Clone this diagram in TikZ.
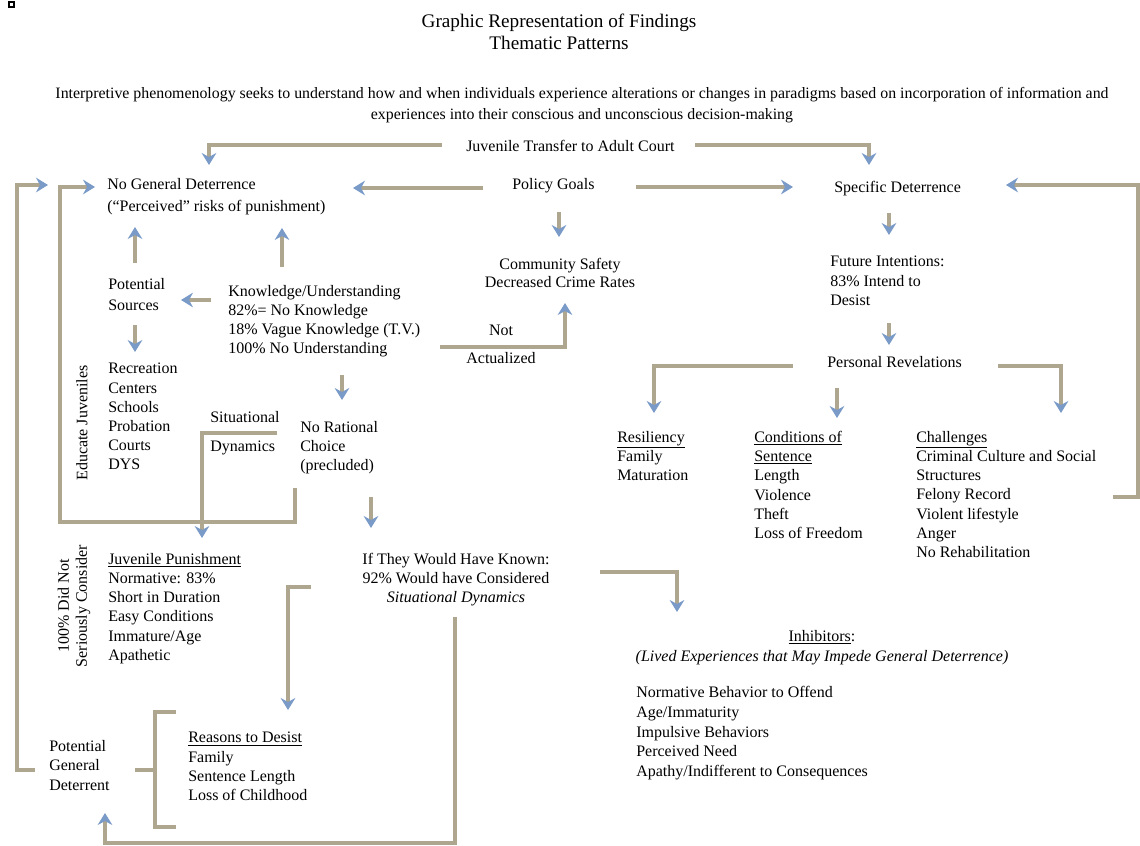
\documentclass[tikz,border=0pt]{standalone}
\usepackage{fontspec}
\setmainfont{Liberation Serif}
\usepackage{xcolor}
\definecolor{link-tan}{HTML}{AEA68E}
\definecolor{tip-blue}{HTML}{7A9AC8}
\usetikzlibrary{arrows.meta}

\begin{document}
\begin{tikzpicture}[x=0.75pt, y=-0.75pt,
    txt/.style={inner sep=0pt, anchor=north west, align=left, font=\fontsize{12}{14.4}\selectfont},
    link/.style={draw=link-tan, line width=3pt},
    arr/.style={link, -{Stealth[length=9pt, width=11pt, inset=3pt, color=tip-blue]}}]

    % Page
    \useasboundingbox (0,0) rectangle (1140,846);
    \draw[line width=0.8pt] (9,2) rectangle (14,7);

    % Heading
    \node[txt, anchor=north, align=center, font=\fontsize{14.4}{16.5}\selectfont] (title) at (559,14)
        {Graphic Representation of Findings\\Thematic Patterns};
    \node[txt, anchor=north, align=center, font=\fontsize{11.9}{15.75}\selectfont] (intro) at (582,87)
        {Interpretive phenomenology seeks to understand how and when individuals experience alterations or changes in paradigms based on incorporation of information and\\
         experiences into their conscious and unconscious decision-making};

    % Top row
    \node[txt] (transfer) at (466,140) {Juvenile Transfer to Adult Court};
    \node[txt, font=\fontsize{12}{16.5}\selectfont] (ngd) at (107,178) {No General Deterrence\\(“Perceived” risks of punishment)};
    \node[txt] (goals) at (512,178) {Policy Goals};
    \node[txt] (sd) at (834,181) {Specific Deterrence};

    % General deterrence side
    \node[txt, font=\fontsize{12}{15.75}\selectfont] (sources) at (108,278) {Potential\\Sources};
    \node[txt] (know) at (228,285) {Knowledge/Understanding\\82\%= No Knowledge\\18\% Vague Knowledge (T.V.)\\100\% No Understanding};
    \node[txt, anchor=north, align=center, font=\fontsize{12}{13.5}\selectfont] (safety) at (560,258) {Community Safety\\Decreased Crime Rates};
    \node[txt, anchor=north, align=center, font=\fontsize{12}{21}\selectfont] (notact) at (501,325) {Not\\Actualized};
    \node[txt] (rec) at (108,363) {Recreation\\Centers\\Schools\\Probation\\Courts\\DYS};
    \node[rotate=90, inner sep=0pt, font=\fontsize{12}{14.4}\selectfont] (educate) at (82,423) {Educate Juveniles};
    \node[txt, font=\fontsize{12}{21.75}\selectfont] (sit) at (210,411) {Situational\\Dynamics};
    \node[txt] (nrc) at (300,421) {No Rational\\Choice\\(precluded)};
    \node[rotate=90, inner sep=0pt, align=center, font=\fontsize{12}{13.5}\selectfont] (notconsider) at (74,606) {100\% Did Not\\Seriously Consider};
    \node[txt] (jp) at (108,553) {\underline{Juvenile Punishment}\\Normative: 83\%\\Short in Duration\\Easy Conditions\\Immature/Age\\Apathetic};
    \node[txt, anchor=north, align=center] (known) at (456,553) {If They Would Have Known:\\92\% Would have Considered\\\textit{Situational Dynamics}};
    \node[txt, font=\fontsize{12}{14.6}\selectfont] (pgd) at (49,740) {Potential\\General\\Deterrent};
    \node[txt] (rtd) at (188,732) {\underline{Reasons to Desist}\\Family\\Sentence Length\\Loss of Childhood};

    % Specific deterrence side
    \node[txt] (fi) at (830,256) {Future Intentions:\\83\% Intend to\\Desist};
    \node[txt] (pr) at (827,356) {Personal Revelations};
    \node[txt] (res) at (617,431) {\underline{Resiliency}\\Family\\Maturation};
    \node[txt] (cos) at (754,431) {\underline{Conditions of}\\\underline{Sentence}\\Length\\Violence\\Theft\\Loss of Freedom};
    \node[txt] (chl) at (916,431) {\underline{Challenges}\\Criminal Culture and Social\\Structures\\Felony Record\\Violent lifestyle\\Anger\\No Rehabilitation};
    \node[txt, anchor=north, align=center, font=\fontsize{12}{15}\selectfont] (inh) at (822,630) {\underline{Inhibitors}:\\\textit{(Lived Experiences that May Impede General Deterrence)}};
    \node[txt, font=\fontsize{12}{14.8}\selectfont] (inhlist) at (636,686) {Normative Behavior to Offend\\Age/Immaturity\\Impulsive Behaviors\\Perceived Need\\Apathy/Indifferent to Consequences};

    % Connector ends
    \coordinate (transfer-l) at (442,145);  \coordinate (ngd-t) at (209,165);
    \coordinate (transfer-r) at (695,145);  \coordinate (sd-t) at (869,165);
    \coordinate (goals-l) at (483,188);     \coordinate (ngd-r) at (353,188);
    \coordinate (goals-r) at (636,187);     \coordinate (sd-l) at (793,187);
    \coordinate (goals-b) at (559,212);     \coordinate (safety-t) at (559,237);
    \coordinate (chl-r) at (1113,497);      \coordinate (sd-r) at (1006,185);
    \coordinate (pgd-l) at (35,770);        \coordinate (ngd-l1) at (48,185);
    \coordinate (nrc-b) at (295,488);       \coordinate (ngd-l2) at (95,187);
    \coordinate (sources-t) at (135,263);   \coordinate (ngd-b1) at (135,227);
    \coordinate (know-t) at (282,267);      \coordinate (ngd-b2) at (282,228);
    \coordinate (know-l) at (211,300);      \coordinate (sources-r) at (181,300);
    \coordinate (sources-b) at (135,325);   \coordinate (rec-t) at (135,352);
    \coordinate (know-b) at (342,375);      \coordinate (nrc-t) at (342,400);
    \coordinate (know-r) at (440,347);      \coordinate (safety-b) at (565,303);
    \coordinate (sit-r) at (277,433);       \coordinate (jp-t) at (202,538);
    \coordinate (sd-b) at (889,213);        \coordinate (fi-t) at (889,235);
    \coordinate (fi-b) at (889,323);        \coordinate (pr-t) at (889,345);
    \coordinate (pr-l) at (793,366);        \coordinate (res-t) at (654,413);
    \coordinate (pr-b) at (837,388);        \coordinate (cos-t) at (837,418);
    \coordinate (pr-r) at (998,366);        \coordinate (chl-t) at (1061,413);
    \coordinate (nrc-b2) at (371,497);      \coordinate (known-t) at (371,528);
    \coordinate (known-r) at (600,572);     \coordinate (inh-t) at (677,612);
    \coordinate (known-l) at (311,587);     \coordinate (rtd-t) at (288,710);
    \coordinate (known-b) at (455,617);     \coordinate (pgd-b) at (105,813);
    \coordinate (rtd-brace) at (176,712);   \coordinate (pgd-r) at (135,770);

    % Connectors
    \draw[arr] (transfer-l) -| (ngd-t);
    \draw[arr] (transfer-r) -| (sd-t);
    \draw[arr] (goals-l) -- (ngd-r);
    \draw[arr] (goals-r) -- (sd-l);
    \draw[arr] (goals-b) -- (safety-t);
    \draw[arr] (chl-r) -- ++(25,0) |- (sd-r);
    \draw[arr] (pgd-l) -- ++(-18,0) |- (ngd-l1);
    \draw[arr] (nrc-b) -- ++(0,34) -- ++(-235,0) |- (ngd-l2);
    \draw[arr] (sources-t) -- (ngd-b1);
    \draw[arr] (know-t) -- (ngd-b2);
    \draw[arr] (know-l) -- (sources-r);
    \draw[arr] (sources-b) -- (rec-t);
    \draw[arr] (know-b) -- (nrc-t);
    \draw[arr] (know-r) -| (safety-b); % Not actualized
    \draw[arr] (sit-r) -| (jp-t);
    \draw[arr] (sd-b) -- (fi-t);
    \draw[arr] (fi-b) -- (pr-t);
    \draw[arr] (pr-l) -| (res-t);
    \draw[arr] (pr-b) -- (cos-t);
    \draw[arr] (pr-r) -| (chl-t);
    \draw[arr] (nrc-b2) -- (known-t);
    \draw[arr] (known-r) -| (inh-t);
    \draw[arr] (known-l) -| (rtd-t);
    \draw[arr] (known-b) -- ++(0,226) -| (pgd-b);

    % Bracket
    \draw[link] (rtd-brace) -- ++(-21,0) -- ++(0,115) -- ++(21,0);
    \draw[link] (pgd-r) -- ++(20,0);

\end{tikzpicture}
\end{document}
